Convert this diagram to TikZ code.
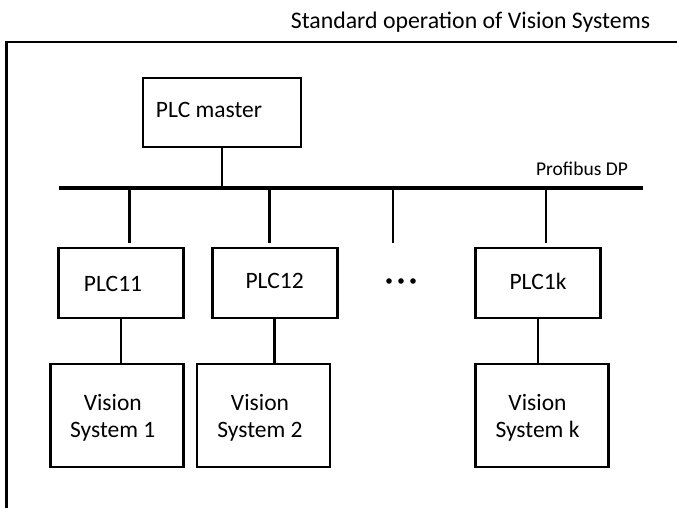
\documentclass[tikz,border=0pt]{standalone}
\usepackage{fontspec}
\setmainfont{Carlito}
\usetikzlibrary{positioning}
\tikzset{
  plcbox/.style  = {draw,line width=2.8pt,minimum width=125pt,minimum height=70pt,
                    inner sep=0pt,font=\fontsize{23.5}{27}\selectfont},
  visbox/.style  = {plcbox,minimum width=133pt,minimum height=103pt,align=center},
  boxtext/.style = {font=\fontsize{23.5}{27}\selectfont,align=center},
  frameline/.style = {line width=2.8pt},
  busline/.style = {line width=3.4pt},
  link/.style    = {line width=2.6pt}
}

\begin{document}
\begin{tikzpicture}[x=1pt,y=-1pt]
  \useasboundingbox (0,0) rectangle (677,508);
  % outer frame
  \draw[frameline] (6.5,520) -- (6.5,42) -- (690,42);
  \node[font=\fontsize{23.8}{27}\selectfont] (title) at (470.5,22) {Standard operation of Vision Systems};
  % master and bus
  \node[plcbox,minimum width=158pt,minimum height=69pt,
        label={[boxtext,xshift=-13pt,yshift=2.5pt]center:PLC master}] (master) at (222,112.5) {};
  \coordinate (busL) at (59,188);
  \coordinate (busR) at (643,188);
  \draw[busline] (busL) -- (busR);
  \node[font=\fontsize{19.5}{22}\selectfont] (bus) at (582,169) {Profibus DP};
  \draw[link] (master.south) -- (master.south |- busL);
  % PLC slaves
  \node[plcbox,label={[boxtext,xshift=-8pt,yshift=-1pt]center:PLC11}] (plc11) at (121,283) {};
  \node[plcbox,label={[boxtext,yshift=2pt]center:PLC12}] (plc12) at (274.6,283) {};
  \node[plcbox,label={[boxtext,yshift=2pt]center:PLC1k}] (plc1k) at (538,283) {};
  \coordinate (dots) at (401,281);
  \foreach \dx in {-12,0,12}
    \fill (dots) ++(\dx,0) circle (2.8pt);
  % drops from the bus
  \coordinate (d1) at (129.5,243);
  \coordinate (d2) at (269.4,243);
  \coordinate (d3) at (393,243);
  \coordinate (d4) at (546,243);
  \foreach \d in {d1,d2,d3,d4}
    \draw[link] (\d |- busL) -- (\d);
  % vision systems
  \node[visbox,label={[boxtext,xshift=-4pt,yshift=-2.5pt]center:Vision\\System 1}] (vis1) at (116.8,415.5) {};
  \node[visbox,label={[boxtext,xshift=-3.5pt,yshift=-2.5pt]center:Vision\\System 2}] (vis2) at (263.5,415.5) {};
  \node[visbox,label={[boxtext,xshift=-4.5pt,yshift=-2.5pt]center:Vision\\System k}] (visk) at (542,415.5) {};
  \draw[link] (plc11.south) -- (plc11.south |- vis1.north);
  \draw[link] (plc12.south) -- (plc12.south |- vis2.north);
  \draw[link] (plc1k.south) -- (plc1k.south |- visk.north);
\end{tikzpicture}
\end{document}
